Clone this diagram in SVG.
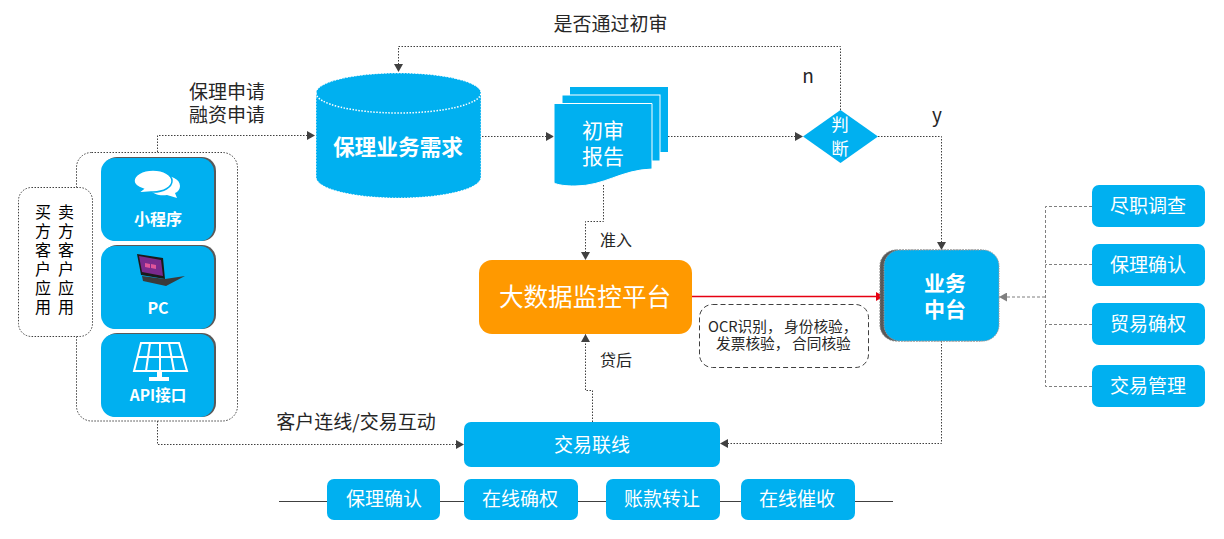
<svg xmlns="http://www.w3.org/2000/svg" width="1224" height="539" viewBox="0 0 1224 539">
<style>
text{font-family:"Noto Sans CJK SC","Liberation Sans",sans-serif;text-anchor:middle}
.w{fill:#fff}
.k{fill:#262626;font-size:19px}
.s{fill:#262626;font-size:16px}
.b{fill:#00b0f0}
.c{fill:none;stroke:#404040;stroke-width:1;stroke-dasharray:1.500 1.500}
.g{fill:none;stroke:#7f7f7f;stroke-width:1;stroke-dasharray:3 2}
.t19{font-size:19px}
.v{writing-mode:vertical-rl;text-anchor:start;font-size:16px;letter-spacing:3px;fill:#000}
.n{text-anchor:start;font-size:14.700px;fill:#262626}
</style>
<defs>
<marker id="a" markerUnits="userSpaceOnUse" markerWidth="9" markerHeight="9" refX="8" refY="4.500" orient="auto"><path d="M0 0L8 4.500L0 9z" fill="#404040"/></marker>
<marker id="ag" markerUnits="userSpaceOnUse" markerWidth="9" markerHeight="9" refX="8" refY="4.500" orient="auto"><path d="M0 0L8 4.500L0 9z" fill="#7f7f7f"/></marker>
<marker id="ar" markerUnits="userSpaceOnUse" markerWidth="9" markerHeight="9" refX="8" refY="4.500" orient="auto"><path d="M0 0L8 4.500L0 9z" fill="#e60012"/></marker>
</defs>
<rect width="1224" height="539" fill="#fff"/>
<g id="connectors">
<path class="c" d="M840.500 110V46.500H398.500V72" marker-end="url(#a)"/>
<path class="c" d="M157.500 152V135.500H315" marker-end="url(#a)"/>
<path class="c" d="M482 136.500H554" marker-end="url(#a)"/>
<path class="c" d="M668 136.500H803" marker-end="url(#a)"/>
<path class="c" d="M878 136.500H941.500V250" marker-end="url(#a)"/>
<path class="c" d="M603.500 185V221.500H585.500V260" marker-end="url(#a)"/>
<path class="c" d="M592.500 422V390.500H585.500V334" marker-end="url(#a)"/>
<path class="c" d="M941.500 341V443.500H720" marker-end="url(#a)"/>
<path class="c" d="M157.500 421V444.500H464" marker-end="url(#a)"/>
<path d="M692 296.500H884" fill="none" stroke="#e60012" stroke-width="1.300" marker-end="url(#ar)"/>
<path class="g" d="M1092 206.500H1045.500V386.500H1092M1092 264.500H1045.500M1092 324.500H1045.500"/>
<path class="g" d="M1045 297H999" marker-end="url(#ag)"/>
<path d="M279 501.500H893" stroke="#404040" fill="none"/>
</g>
<g id="client-group">
<rect x="76.500" y="152.500" width="161" height="268.500" rx="15" fill="#fff" stroke="#404040" stroke-dasharray="1.500 1.500"/>
</g>
<g id="client-label">
<rect x="18.500" y="187.500" width="74" height="149" rx="13" fill="#fff" stroke="#404040" stroke-dasharray="1.500 1.500"/>
<text x="43" y="204" class="v">买方客户应用</text>
<text x="66" y="204" class="v">卖方客户应用</text>
</g>
<g id="miniapp">
<rect x="103" y="157" width="113" height="84" rx="14" fill="#595959"/>
<rect x="101" y="158" width="113" height="83" rx="14" class="b"/>
<path class="w" d="M160 175c11 0 20 4 20 11c0 3-2 6-5 7l2 5l-10-3c-8 1-14-1-17-5z"/>
<path class="w" stroke="#00b0f0" stroke-width="1.500" d="M153 170c11 0 19 5 19 11c0 6-8 11-19 11l-2 0l-13 1l5-4c-6-2-9-5-9-8c0-6 8-11 19-11z"/>
<text x="158" y="225" class="w" font-size="16" font-weight="700">小程序</text>
</g>
<g id="pc">
<rect x="103" y="245" width="113" height="84" rx="14" fill="#595959"/>
<rect x="101" y="246" width="113" height="83" rx="14" class="b"/>
<path d="M137 254L163 258L165 279L141 275z" fill="#1a1a1a"/>
<path d="M139 256L161 260L163 276L142 272z" fill="#7a2a8c"/>
<path d="M145 263l5 1v4l-5-1zM151 264l5 1v4l-5-1z" fill="#e0559b"/>
<path d="M142 276L165 279L185 276L166 286L143 281z" fill="#3a3a3a"/>
<text x="158" y="314" class="w" font-size="16" font-weight="700">PC</text>
</g>
<g id="api">
<rect x="103" y="333" width="113" height="84" rx="14" fill="#595959"/>
<rect x="101" y="334" width="113" height="83" rx="14" class="b"/>
<g fill="none" stroke="#fff" stroke-width="2"><path d="M141 343H179L187 371H134zM137 357H183M150 343L146 371M160 343V371M169 343L174 371"/></g>
<path class="w" d="M157 372H162V377H169V381H149V377H157z"/>
<text x="158" y="401" class="w" font-size="15.500" font-weight="700">API接口</text>
</g>
<g id="demand">
<path class="b" stroke="#fff" stroke-dasharray="1.500 1.500" d="M316 93C316 82 353 73 398.500 73S481 82 481 93V177C481 189 444 198 398.500 198S316 189 316 177z"/>
<path d="M316 93C316 104 353 113 398.500 113S481 104 481 93" fill="none" stroke="#fff" stroke-width="1.500" stroke-dasharray="1.500 1.500"/>
<text x="398" y="155" class="w" font-size="21.700" font-weight="700">保理业务需求</text>
</g>
<g id="report">
<rect x="570" y="87" width="98" height="65" class="b"/>
<rect x="562" y="95" width="98" height="66" class="b" stroke="#fff"/>
<path class="b" stroke="#fff" d="M554 103.500H652V169C620 170 605 186 575 186C565 186 558 185 554 183z" stroke-width="1"/>
<text x="603" y="138" class="w" font-size="21">初审</text>
<text x="603" y="164" class="w" font-size="21">报告</text>
</g>
<g id="decision">
<path class="b" d="M840.500 110L878 136.500L840.500 163L803 136.500z"/>
<text x="840" y="131" class="w" font-size="17.500">判</text>
<text x="840" y="155" class="w" font-size="17.500">断</text>
</g>
<g id="monitor">
<rect x="479" y="260" width="213" height="74" rx="13" fill="#ff9900"/>
<text x="585" y="306" class="w" font-size="24.600">大数据监控平台</text>
</g>
<g id="note">
<rect x="699.500" y="304.500" width="169" height="63" rx="13" fill="#fff" stroke="#404040" stroke-dasharray="5 3"/>
<text y="332" class="n"><tspan x="708">OCR识别，</tspan><tspan x="784">身份核验，</tspan></text>
<text y="349" class="n"><tspan x="716">发票核验，</tspan><tspan x="792">合同核验</tspan></text>
</g>
<g id="middle">
<rect x="880" y="250" width="116" height="91" rx="16" fill="#595959" stroke="#7f7f7f" stroke-dasharray="2 1"/>
<rect x="884" y="250" width="115" height="91" rx="16" class="b" stroke="#999" stroke-dasharray="1.500 1"/>
<text x="945" y="291" class="w" font-size="21" font-weight="700">业务</text>
<text x="945" y="317" class="w" font-size="21" font-weight="700">中台</text>
</g>
<g id="r1"><rect x="1092" y="185" width="113" height="42" rx="7" class="b"/><text x="1148" y="213" class="w t19">尽职调查</text></g>
<g id="r2"><rect x="1092" y="244" width="113" height="42" rx="7" class="b"/><text x="1148" y="272" class="w t19">保理确认</text></g>
<g id="r3"><rect x="1092" y="303" width="113" height="42" rx="7" class="b"/><text x="1148" y="331" class="w t19">贸易确权</text></g>
<g id="r4"><rect x="1092" y="365" width="113" height="42" rx="7" class="b"/><text x="1148" y="393" class="w t19">交易管理</text></g>
<g id="trade"><rect x="464" y="422" width="256" height="45" rx="7" class="b"/><text x="592" y="452" class="w t19">交易联线</text></g>
<g id="b1"><rect x="327" y="479" width="113" height="41" rx="7" class="b"/><text x="384" y="506" class="w t19">保理确认</text></g>
<g id="b2"><rect x="464" y="479" width="114" height="41" rx="7" class="b"/><text x="520" y="506" class="w t19">在线确权</text></g>
<g id="b3"><rect x="606" y="479" width="114" height="41" rx="7" class="b"/><text x="662" y="506" class="w t19">账款转让</text></g>
<g id="b4"><rect x="741" y="479" width="114" height="41" rx="7" class="b"/><text x="797" y="506" class="w t19">在线催收</text></g>
<g id="labels">
<text x="610.500" y="31" class="k">是否通过初审</text>
<text x="227" y="99" class="k">保理申请</text>
<text x="227" y="122" class="k">融资申请</text>
<text x="808" y="83" class="k">n</text>
<text x="937" y="122" class="k">y</text>
<text x="616" y="246" class="s">准入</text>
<text x="616" y="366" class="s">贷后</text>
<text x="356" y="429" class="k">客户连线/交易互动</text>
</g>
</svg>
